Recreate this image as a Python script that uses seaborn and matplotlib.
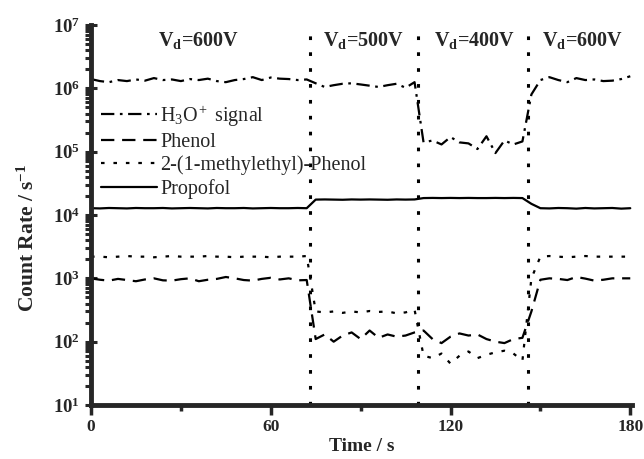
import numpy as np
import pandas as pd
import matplotlib
matplotlib.use("Agg")
import matplotlib.pyplot as plt
import seaborn as sns

# time axis (s), one sample every 3 s
time_s = list(range(0, 181, 3))

h3o_signal = [1.40e6, 1.30e6, 1.25e6, 1.35e6, 1.30e6, 1.38e6, 1.32e6, 1.45e6, 1.35e6, 1.38e6,
              1.30e6, 1.40e6, 1.35e6, 1.42e6, 1.30e6, 1.25e6, 1.35e6, 1.40e6, 1.50e6, 1.35e6,
              1.48e6, 1.42e6, 1.40e6, 1.35e6, 1.38e6,
              1.20e6, 1.05e6, 1.12e6, 1.18e6, 1.20e6, 1.15e6, 1.10e6, 1.05e6, 1.12e6, 1.18e6,
              1.02e6, 1.25e6,
              1.40e5, 1.50e5, 1.30e5, 1.70e5, 1.40e5, 1.35e5, 1.10e5, 1.75e5, 0.95e5, 1.50e5,
              1.30e5, 1.45e5,
              8.0e5,
              1.35e6, 1.50e6, 1.35e6, 1.25e6, 1.45e6, 1.35e6, 1.38e6, 1.30e6, 1.32e6, 1.40e6, 1.55e6]

phenol = [1000, 950, 920, 980, 940, 900, 960, 1000, 930, 920, 970, 1000, 900,
          950, 980, 1050, 1000, 940, 920, 980, 1020, 960, 1000, 930, 940,
          110, 130, 100, 125, 140, 110, 150, 115, 130, 120, 125, 140,
          150, 110, 95, 120, 135, 125, 130, 110, 100, 95, 110, 115,
          300,
          950, 1000, 980, 940, 1050, 990, 920, 950, 1000, 1000, 1000]

methylethyl_phenol = [2200, 2200, 2150, 2200, 2250, 2200, 2200, 2150, 2200, 2250, 2200, 2200, 2200,
                      2250, 2200, 2200, 2150, 2200, 2200, 2200, 2150, 2200, 2200, 2200, 2250,
                      300, 290, 300, 285, 300, 290, 305, 295, 300, 280, 290, 320,
                      60, 55, 65, 45, 60, 70, 55, 62, 68, 72, 65, 50,
                      1000,
                      2200, 2250, 2200, 2150, 2200, 2250, 2200, 2200, 2200, 2200, 2200]

propofol = [12800, 12700, 12900, 12800, 12700, 12900, 12800, 12800, 12900, 12700, 12800, 12900, 12800,
            12700, 12900, 12800, 12800, 12900, 12700, 12800, 12900, 12800, 12800, 12900, 12800,
            17500, 17600, 17500, 17400, 17600, 17500, 17600, 17500, 17400, 17600, 17500, 17600,
            18500, 18600, 18500, 18600, 18500, 18600, 18500, 18500, 18600, 18500, 18600, 18500,
            15000,
            12800, 12700, 12900, 12800, 12600, 12900, 12700, 12800, 12900, 12600, 12800]

series_names = ["H$_3$O$^+$ signal", "Phenol", "2-(1-methylethyl)-Phenol", "Propofol"]
switch_times = [73, 109, 146]
region_labels = ["V$_\\mathbf{d}$=600V", "V$_\\mathbf{d}$=500V", "V$_\\mathbf{d}$=400V", "V$_\\mathbf{d}$=600V"]
region_centers = [36, 91, 128, 164]

df = pd.DataFrame({"time": time_s * 4,
                   "rate": h3o_signal + phenol + methylethyl_phenol + propofol,
                   "series": sum([[n] * len(time_s) for n in series_names], [])})

sns.set_style("ticks")
plt.rcParams["font.family"] = ["Liberation Serif", "DejaVu Serif"]
plt.rcParams["mathtext.fontset"] = "custom"
plt.rcParams["mathtext.rm"] = "Liberation Serif"
plt.rcParams["mathtext.it"] = "Liberation Serif:italic"
plt.rcParams["mathtext.bf"] = "Liberation Serif:bold"

fig = plt.figure(figsize=(6.44, 4.59), dpi=100)
ax = fig.add_axes([0.1413, 0.1176, 0.8397, 0.828])

dash_map = {series_names[0]: (6, 2.5, 1.2, 2.5),
            series_names[1]: (6, 3.5),
            series_names[2]: (1.6, 4),
            series_names[3]: ""}
sns.lineplot(data=df, x="time", y="rate", style="series", style_order=series_names,
             dashes=dash_map, color="black", linewidth=1.6, ax=ax)

ax.set_yscale("log")
ax.set_ylim(10, 1e7)
ax.set_xlim(0, 180.5)

for t in switch_times:
    ax.axvline(t, color="black", linewidth=2.2, linestyle=(0, (1.2, 4)))

for x, lab in zip(region_centers, region_labels):
    ax.text(x, 5.6e6, lab, ha="center", va="center", fontsize=14.5, fontweight="bold")

ax.set_xticks([0, 60, 120, 180])
ax.set_xticks([30, 90, 150], minor=True)
ax.set_yticks([10 ** k for k in range(1, 8)])
ax.set_yticklabels(["10$^{\\mathbf{%d}}$" % k for k in range(1, 8)])
for lab in ax.get_xticklabels():
    lab.set_fontweight("bold")
    lab.set_fontsize(12.5)
for lab in ax.get_yticklabels():
    lab.set_fontweight("bold")
    lab.set_fontsize(13.5)

ax.tick_params(axis="x", which="major", direction="out", length=7, width=2.5, pad=3)
ax.tick_params(axis="x", which="minor", direction="out", length=4, width=2.5)
ax.tick_params(axis="y", which="major", direction="inout", length=9, width=2.2)
ax.tick_params(axis="y", which="minor", direction="out", length=4, width=2.2)

sns.despine(ax=ax)
for s in ["left", "bottom"]:
    ax.spines[s].set_linewidth(3.5)

ax.set_xlabel("Time / s", fontsize=14, fontweight="bold", labelpad=2)
ax.set_ylabel("Count Rate / s$^{\\mathbf{-1}}$", fontsize=15.5, fontweight="bold")
ax.yaxis.set_label_coords(-0.097, 0.44)

handles, labels = ax.get_legend_handles_labels()
ax.legend(handles, labels, loc="upper left", bbox_to_anchor=(0.0, 0.82), frameon=False,
          fontsize=14.5, handlelength=2.8, handletextpad=0.15, labelspacing=0.2,
          borderaxespad=0.3, borderpad=0.2)

fig.savefig("out.png", dpi=100)
